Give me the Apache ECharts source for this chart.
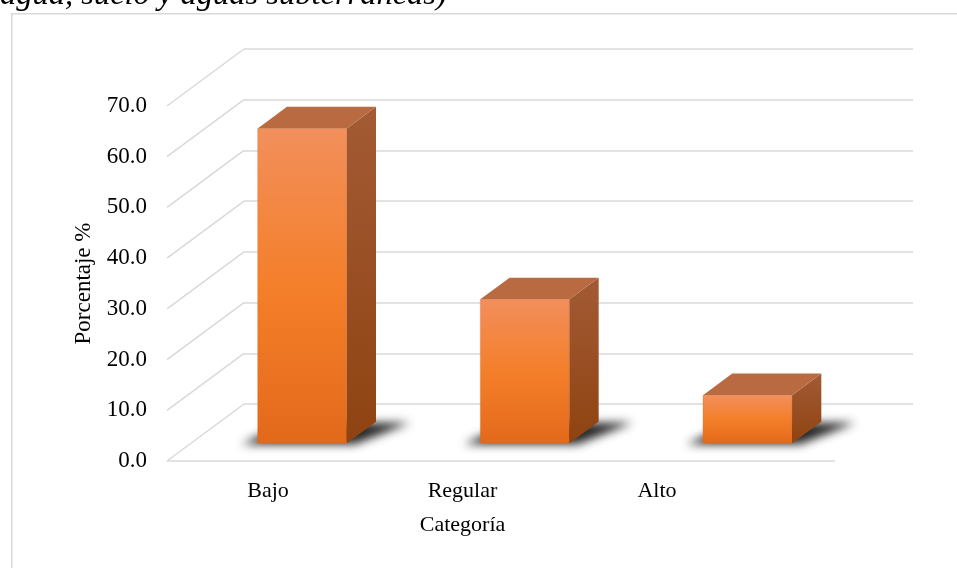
<!DOCTYPE html>
<html>
<head>
<meta charset="utf-8">
<script src="https://cdn.jsdelivr.net/npm/echarts@6/dist/echarts.min.js"></script>
<style>
  html, body { margin: 0; padding: 0; background: #ffffff; }
  #chart { width: 957px; height: 568px; }
</style>
</head>
<body>
<div id="chart"></div>
<script>
// Category names and percentage per category
const categories = ['Bajo', 'Regular', 'Alto'];
const percentages = [62.1, 28.4, 9.5];
// Value axis range and step
const axisMin = 0;
const axisMax = 70;
const axisStep = 10;
const tickValues = [0, 10, 20, 30, 40, 50, 60, 70];

const FONT = '"Liberation Serif", "Times New Roman", serif';
const GRID_COLOR = '#D9D9D9';

// Oblique projection: screen offset from the front plane to the back wall
const DEPTH = [77, -57];
// Bars occupy the middle slice of the depth
const BAR_DEPTH_FROM = 0.31;
const BAR_DEPTH_TO = 0.69;
const BAR_WIDTH_RATIO = 0.4;
// Floor shadows are drawn off-canvas and thrown back into place by the shadow offset
const SHADOW_SHIFT = 3000;

// Front plane of the plot box
const FRONT = { left: 167, top: 106, width: 668, height: 355 };
// Back wall, shifted by the depth vector
const BACK = {
  left: FRONT.left + DEPTH[0],
  top: FRONT.top + DEPTH[1],
  width: FRONT.width + 1,
  height: FRONT.height
};

const chart = echarts.init(document.getElementById('chart'), null, { renderer: 'canvas' });

function renderFloorAndSideLines(params, api) {
  const v = api.value(0);
  const cs = params.coordSys;
  const y = api.coord([0, v])[1];
  const x = cs.x;
  const children = [{
    type: 'line',
    shape: { x1: x, y1: y, x2: x + DEPTH[0], y2: y + DEPTH[1] },
    style: { stroke: GRID_COLOR, lineWidth: 1.5 }
  }];
  if (v === axisMin) {
    children.push({
      type: 'line',
      shape: { x1: x, y1: y, x2: x + cs.width, y2: y },
      style: { stroke: GRID_COLOR, lineWidth: 1.5 }
    });
  }
  return { type: 'group', children: children };
}

function renderBar3D(params, api) {
  const idx = api.value(0);
  const val = api.value(1);
  const base = api.coord([idx, 0]);
  const top = api.coord([idx, val]);
  const band = api.size([1, 0])[0];
  const w = band * BAR_WIDTH_RATIO;
  const ox = DEPTH[0] * BAR_DEPTH_FROM;
  const oy = DEPTH[1] * BAR_DEPTH_FROM;
  const dx = DEPTH[0] * (BAR_DEPTH_TO - BAR_DEPTH_FROM);
  const dy = DEPTH[1] * (BAR_DEPTH_TO - BAR_DEPTH_FROM);

  const xl = base[0] - w / 2 + ox;
  const xr = base[0] + w / 2 + ox;
  const yb = base[1] + oy;
  const yt = top[1] + oy;

  const S = SHADOW_SHIFT;
  const shadow = {
    type: 'polygon',
    shape: {
      points: [
        [xl - 16 - S, yb + 1],
        [xr + 8 - S, yb + 1],
        [xr + dx + 34 - S, yb + dy + 1],
        [xl + dx - S, yb + dy + 1]
      ]
    },
    style: {
      fill: '#000000',
      shadowBlur: 10,
      shadowColor: 'rgba(0,0,0,0.85)',
      shadowOffsetX: S,
      shadowOffsetY: 0
    }
  };
  const front = {
    type: 'rect',
    shape: { x: xl, y: yt, width: xr - xl, height: yb - yt },
    style: {
      fill: new echarts.graphic.LinearGradient(0, 0, 0, 1, [
        { offset: 0, color: '#F28F5C' },
        { offset: 0.5, color: '#F47F2A' },
        { offset: 1, color: '#E3691A' }
      ]),
      stroke: 'rgba(220,110,40,0.6)',
      lineWidth: 0.5
    }
  };
  const side = {
    type: 'polygon',
    shape: { points: [[xr, yt], [xr + dx, yt + dy], [xr + dx, yb + dy], [xr, yb]] },
    style: {
      fill: new echarts.graphic.LinearGradient(0, 0, 0, 1, [
        { offset: 0, color: '#A35B35' },
        { offset: 1, color: '#8F4311' }
      ])
    }
  };
  const cap = {
    type: 'polygon',
    shape: { points: [[xl, yt], [xr, yt], [xr + dx, yt + dy], [xl + dx, yt + dy]] },
    style: { fill: '#B96A41' }
  };
  return { type: 'group', children: [shadow, front, side, cap] };
}

const option = {
  backgroundColor: '#ffffff',
  animation: false,
  graphic: [
    {
      type: 'rect',
      left: 11, top: 13, z: -10,
      shape: { width: 1000, height: 600 },
      style: { fill: '#ffffff', stroke: '#D9D9D9', lineWidth: 1.5 }
    },
    {
      type: 'text',
      left: 0, top: -21,
      style: {
        text: 'agua, suelo y aguas subterráneas)',
        font: 'italic 32.5px ' + FONT,
        fill: '#000000'
      }
    }
  ],
  grid: [
    { left: FRONT.left, top: FRONT.top, width: FRONT.width, height: FRONT.height },
    { left: BACK.left, top: BACK.top, width: BACK.width, height: BACK.height },
    { left: 170.75, top: FRONT.top, width: 583.5, height: FRONT.height }
  ],
  xAxis: [
    {
      gridIndex: 0, type: 'category', data: categories,
      axisLine: { show: false }, axisTick: { show: false }, axisLabel: { show: false }
    },
    {
      gridIndex: 1, type: 'value', min: 0, max: 1,
      axisLine: { show: false }, axisTick: { show: false }, axisLabel: { show: false },
      splitLine: { show: false }
    },
    {
      gridIndex: 2, type: 'category', data: categories,
      axisLine: { show: false }, axisTick: { show: false },
      axisLabel: { margin: 19, fontFamily: FONT, fontSize: 22, color: '#000000' },
      name: 'Categoría', nameLocation: 'middle', nameGap: 53,
      nameTextStyle: { fontFamily: FONT, fontSize: 22, color: '#000000' }
    }
  ],
  yAxis: [
    {
      gridIndex: 0, type: 'value', min: axisMin, max: axisMax, interval: axisStep,
      axisLine: { show: false }, axisTick: { show: false }, splitLine: { show: false },
      axisLabel: {
        margin: 20, fontFamily: FONT, fontSize: 23, color: '#000000',
        formatter: (v) => v.toFixed(1)
      },
      name: 'Porcentaje %', nameLocation: 'middle', nameGap: 72, nameRotate: 90,
      nameTextStyle: { fontFamily: FONT, fontSize: 23, color: '#000000' }
    },
    {
      gridIndex: 1, type: 'value', min: axisMin, max: axisMax, interval: axisStep,
      axisLine: { show: false }, axisTick: { show: false }, axisLabel: { show: false },
      splitLine: { show: true, lineStyle: { color: GRID_COLOR, width: 1.5 } }
    },
    {
      gridIndex: 2, type: 'value', min: axisMin, max: axisMax, show: false
    }
  ],
  series: [
    {
      type: 'custom',
      xAxisIndex: 0, yAxisIndex: 0,
      data: tickValues.map((v) => [v]),
      renderItem: renderFloorAndSideLines,
      encode: { y: 0 },
      z: 1, silent: true
    },
    {
      type: 'custom',
      xAxisIndex: 0, yAxisIndex: 0,
      data: percentages.map((v, i) => [i, v]),
      renderItem: renderBar3D,
      encode: { x: 0, y: 1 },
      clip: false,
      z: 5
    }
  ]
};

chart.setOption(option);
</script>
</body>
</html>
